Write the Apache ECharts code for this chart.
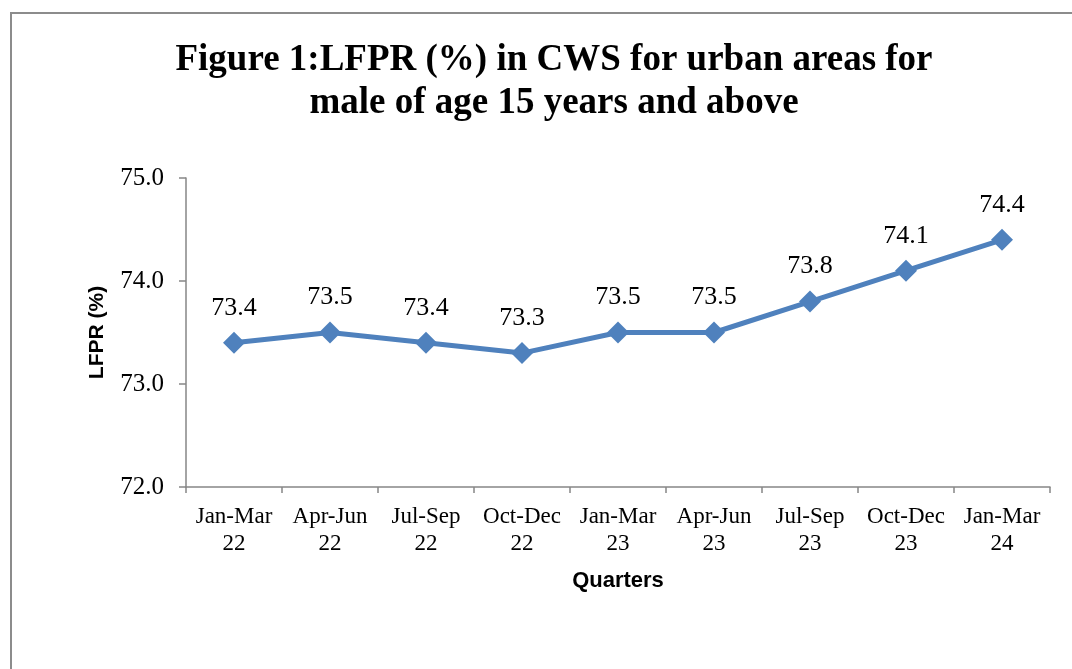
<!DOCTYPE html>
<html>
<head>
<meta charset="utf-8">
<script src="https://cdn.jsdelivr.net/npm/echarts@6/dist/echarts.min.js"></script>
<style>
html,body{margin:0;padding:0;background:#fff;}
#chart{width:1072px;height:669px;}
</style>
</head>
<body>
<div id="chart"></div>
<script>
const categories = ['Jan-Mar\n22','Apr-Jun\n22','Jul-Sep\n22','Oct-Dec\n22','Jan-Mar\n23','Apr-Jun\n23','Jul-Sep\n23','Oct-Dec\n23','Jan-Mar\n24'];
const lfprValues = [73.4, 73.5, 73.4, 73.3, 73.5, 73.5, 73.8, 74.1, 74.4];
const yTicks = { min: 72, max: 75, interval: 1 };
const titleText = 'Figure 1:LFPR (%) in CWS for urban areas for\nmale of age 15 years and above';

const chart = echarts.init(document.getElementById('chart'));
chart.setOption({
  animation: false,
  backgroundColor: '#ffffff',
  graphic: [{
    type: 'rect',
    shape: { x: 11, y: 13, width: 1200, height: 800 },
    style: { fill: 'none', stroke: '#8c8c8c', lineWidth: 2 },
    silent: true
  }],
  title: {
    text: titleText,
    left: 549,
    top: 34,
    textAlign: 'center',
    textStyle: {
      fontFamily: '"Liberation Serif", "Times New Roman", serif',
      fontWeight: 'bold',
      fontSize: 37,
      lineHeight: 43,
      color: '#000'
    }
  },
  grid: { left: 186, top: 178, right: 22, bottom: 182, containLabel: false },
  xAxis: {
    type: 'category',
    data: categories,
    boundaryGap: true,
    name: 'Quarters',
    nameLocation: 'middle',
    nameGap: 83,
    nameTextStyle: { fontFamily: '"Liberation Sans", Arial, sans-serif', fontWeight: 'bold', fontSize: 22, color: '#000' },
    axisLine: { lineStyle: { color: '#868686', width: 1.5 } },
    axisTick: { show: true, length: 6, lineStyle: { color: '#868686', width: 1.5 } },
    axisLabel: {
      interval: 0,
      margin: 16,
      fontFamily: '"Liberation Serif", "Times New Roman", serif',
      fontSize: 23,
      lineHeight: 27,
      color: '#000'
    }
  },
  yAxis: {
    type: 'value',
    min: yTicks.min,
    max: yTicks.max,
    interval: yTicks.interval,
    name: 'LFPR (%)',
    nameLocation: 'middle',
    nameGap: 78,
    nameRotate: 90,
    nameTextStyle: { fontFamily: '"Liberation Sans", Arial, sans-serif', fontWeight: 'bold', fontSize: 21, color: '#000' },
    splitLine: { show: false },
    axisLine: { show: true, lineStyle: { color: '#868686', width: 1.5 } },
    axisTick: { show: true, length: 7, lineStyle: { color: '#868686', width: 1.5 } },
    axisLabel: {
      margin: 22,
      fontFamily: '"Liberation Serif", "Times New Roman", serif',
      fontSize: 25,
      color: '#000',
      formatter: v => v.toFixed(1)
    }
  },
  series: [{
    type: 'line',
    data: lfprValues,
    symbol: 'diamond',
    symbolSize: 22,
    lineStyle: { color: '#4F81BD', width: 5 },
    itemStyle: { color: '#4F81BD' },
    label: {
      show: true,
      position: 'top',
      distance: 11,
      fontFamily: '"Liberation Serif", "Times New Roman", serif',
      fontSize: 26,
      color: '#000',
      formatter: p => p.value.toFixed(1)
    }
  }]
});
</script>
</body>
</html>
